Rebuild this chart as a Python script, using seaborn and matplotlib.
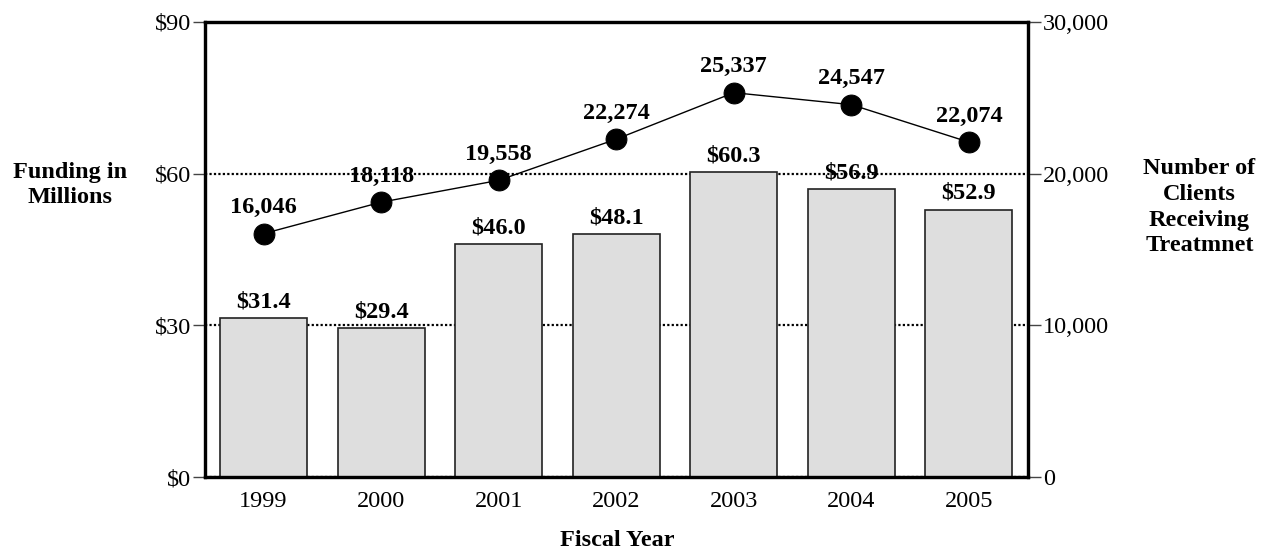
import pandas as pd
import matplotlib
matplotlib.use("Agg")
import matplotlib.pyplot as plt
import seaborn as sns
from matplotlib.ticker import FuncFormatter

# data
years = ["1999", "2000", "2001", "2002", "2003", "2004", "2005"]
funding = [31.4, 29.4, 46.0, 48.1, 60.3, 56.9, 52.9]          # $ millions
clients = [16046, 18118, 19558, 22274, 25337, 24547, 22074]    # clients receiving treatment

df = pd.DataFrame({"year": years, "funding": funding, "clients": clients})

sns.set_theme(style="white")
plt.rcParams["font.family"] = ["Liberation Serif", "DejaVu Serif"]
plt.rcParams["text.color"] = "black"

fig = plt.figure(figsize=(12.72, 5.57), dpi=100)
ax = fig.add_axes([0.161, 0.1436, 0.647, 0.817])

# bars - funding
sns.barplot(data=df, x="year", y="funding", ax=ax, color="#dedede",
            saturation=1, width=0.74, edgecolor="#222222", linewidth=1.2, zorder=2)
ax.set_ylim(0, 90)
ax.set_yticks([0, 30, 60, 90])
ax.yaxis.set_major_formatter(FuncFormatter(lambda v, p: f"${v:.0f}"))
ax.yaxis.grid(True, linestyle=(0, (1, 1)), color="black", linewidth=1.6, zorder=0)
ax.set_axisbelow(True)
ax.set_xlabel("")
ax.set_ylabel("")
ax.tick_params(axis="x", length=0, labelsize=17.5, pad=10, colors="black")
ax.tick_params(axis="y", left=True, length=9, width=1, color="#444444",
               labelsize=17.5, pad=1, labelcolor="black")
for s in ax.spines.values():
    s.set_color("black")
    s.set_linewidth(2.3)

for i, v in enumerate(funding):
    ax.annotate(f"${v:.1f}", (i, v), xytext=(0, 4), textcoords="offset points",
                ha="center", va="bottom", fontsize=17.5, fontweight="bold",
                color="black", zorder=5)

# line - clients on the right axis
ax2 = ax.twinx()
sns.pointplot(data=df, x="year", y="clients", ax=ax2, color="black",
              markers="o", markersize=15, linewidth=1, errorbar=None)
ax2.set_ylim(0, 30000)
ax2.set_yticks([0, 10000, 20000, 30000])
ax2.yaxis.set_major_formatter(FuncFormatter(lambda v, p: f"{v:,.0f}"))
ax2.set_ylabel("")
ax2.set_xlim(-0.5, 6.5)
ax.set_xlim(-0.5, 6.5)
ax2.tick_params(axis="y", right=True, length=9, width=1, color="#444444",
                labelsize=17.5, pad=2, labelcolor="black")
for s in ax2.spines.values():
    s.set_color("black")
    s.set_linewidth(2.3)

for i, v in enumerate(clients):
    ax2.annotate(f"{v:,}", (i, v), xytext=(0, 11), textcoords="offset points",
                 ha="center", va="bottom", fontsize=17.5, fontweight="bold",
                 color="black")

fig.text(0.055, 0.668, "Funding in\nMillions", ha="center", va="center",
         fontsize=17.5, fontweight="bold", linespacing=1.3)
fig.text(0.943, 0.628, "Number of\nClients\nReceiving\nTreatmnet", ha="center",
         va="center", fontsize=17.5, fontweight="bold", linespacing=1.3)
fig.text(0.485, 0.03, "Fiscal Year", ha="center", va="center",
         fontsize=17.5, fontweight="bold")

fig.savefig("out.png", dpi=100)
